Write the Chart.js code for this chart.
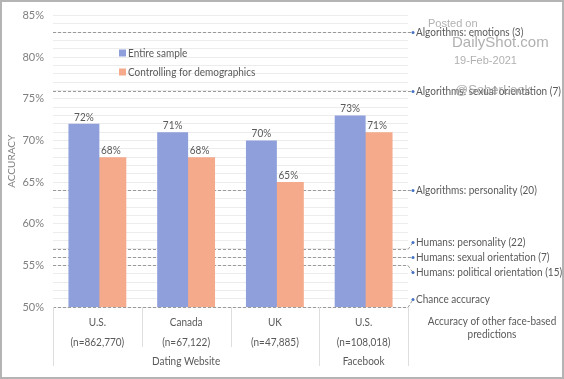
<!DOCTYPE html>
<html>
<head>
<meta charset="utf-8">
<script src="https://cdn.jsdelivr.net/npm/chart.js@4/dist/chart.umd.min.js"></script>
<style>
html,body{margin:0;padding:0;background:#fff;}
#wrap{width:564px;height:379px;position:relative;}
</style>
</head>
<body>
<div id="wrap"><canvas id="c" width="564" height="379"></canvas></div>
<script>
// ---- data ----
const categories = [['U.S.', '(n=862,770)'], ['Canada', '(n=67,122)'], ['UK', '(n=47,885)'], ['U.S.', '(n=108,018)']];
const groupLabels = ['Dating Website', 'Facebook'];
const groupSpans = [[0, 2], [3, 3]];
const entireSample = [72, 71, 70, 73];
const controlling = [68, 68, 65, 71];
const seriesNames = ['Entire sample', 'Controlling for demographics'];
const refLabels = ['Algorithms: emotions (3)', 'Algorithms: sexual orientation (7)', 'Algorithms: personality (20)',
  'Humans: personality (22)', 'Humans: sexual orientation (7)', 'Humans: political orientation (15)', 'Chance accuracy'];
const refValues = [83, 76, 64, 57, 56, 55, 50];
const yTicks = [50, 55, 60, 65, 70, 75, 80, 85];
const sideTitle = ['Accuracy of other face-based', 'predictions'];
const watermark = ['Posted on', 'DailyShot.com', '19-Feb-2021', '@SoberLook'];

const FONT = 'Lato, "Liberation Sans", sans-serif';
const BLUE = '#8e9fdb';
const ORANGE = '#f5aa8b';
const TXT = '#595959';
const labelShift = [0, 0, 0, -7, 0, 7, -8];
const SX = 0.87;

function txt(ctx, s, x, y, align) {
  ctx.save();
  ctx.translate(x, y);
  ctx.scale(SX, 1);
  ctx.textAlign = align || 'left';
  ctx.fillText(s, 0, 0);
  ctx.restore();
}

const overlay = {
  id: 'overlay',
  beforeDatasetsDraw(chart) {
    const {ctx, chartArea: ca, scales: {y}} = chart;
    ctx.save();
    refValues.forEach((v, i) => {
      const py = Math.round(y.getPixelForValue(v)) + 0.5;
      const ly = py + labelShift[i];
      ctx.strokeStyle = '#9a9a9a';
      ctx.lineWidth = 1;
      ctx.setLineDash([3, 2]);
      ctx.beginPath();
      ctx.moveTo(ca.left, py);
      ctx.lineTo(ca.right, py);
      ctx.lineTo(ca.right + 5, ly);
      ctx.stroke();
      ctx.setLineDash([]);
      ctx.fillStyle = '#4472c4';
      ctx.beginPath();
      ctx.arc(ca.right + 5, ly, 1.5, 0, Math.PI * 2);
      ctx.fill();
      ctx.fillStyle = TXT;
      ctx.font = '11.5px ' + FONT;
      ctx.textBaseline = 'middle';
      txt(ctx, refLabels[i], ca.right + 8, ly, 'left');
    });
    ctx.restore();
  },
  afterDraw(chart) {
    const {ctx, chartArea: ca, scales: {x, y}} = chart;
    ctx.save();
    ctx.font = '11.5px ' + FONT;
    ctx.fillStyle = TXT;
    ctx.textBaseline = 'bottom';
    chart.data.datasets.forEach((ds, di) => {
      chart.getDatasetMeta(di).data.forEach((bar, i) => {
        txt(ctx, ds.data[i] + '%', bar.x, bar.y - 1, 'center');
      });
    });
    // category separators
    const half = (x.getPixelForValue(1) - x.getPixelForValue(0)) / 2;
    const groupStarts = groupSpans.map(s => s[0]);
    ctx.strokeStyle = '#dedede';
    ctx.lineWidth = 1;
    for (let i = 0; i <= categories.length; i++) {
      const px = Math.round(i < categories.length ? x.getPixelForValue(i) - half : x.getPixelForValue(i - 1) + half) + 0.5;
      const long = groupStarts.includes(i) || i === categories.length;
      ctx.beginPath();
      ctx.moveTo(px, ca.bottom);
      ctx.lineTo(px, ca.bottom + (long ? 59 : 40));
      ctx.stroke();
    }
    // category labels
    ctx.textBaseline = 'middle';
    categories.forEach((c, i) => {
      const cx = x.getPixelForValue(i);
      txt(ctx, c[0], cx, ca.bottom + 15, 'center');
      txt(ctx, c[1], cx, ca.bottom + 35, 'center');
    });
    groupSpans.forEach((s, gi) => {
      const cx = (x.getPixelForValue(s[0]) + x.getPixelForValue(s[1])) / 2;
      txt(ctx, groupLabels[gi], cx, ca.bottom + 54, 'center');
    });
    const sx = 492;
    txt(ctx, sideTitle[0], sx, ca.bottom + 14, 'center');
    txt(ctx, sideTitle[1], sx, ca.bottom + 27, 'center');
    // legend
    const lgY = [53, 72];
    chart.data.datasets.forEach((ds, di) => {
      const ly = lgY[di];
      ctx.fillStyle = ds.backgroundColor;
      ctx.fillRect(119, ly - 3.5, 7, 7);
      ctx.fillStyle = TXT;
      txt(ctx, ds.label, 128, ly, 'left');
    });
    // watermark
    ctx.fillStyle = 'rgba(150,150,150,0.75)';
    ctx.textAlign = 'left';
    ctx.font = '11px "Liberation Sans", sans-serif';
    ctx.fillText(watermark[0], 428, 24);
    ctx.font = '15px "Liberation Sans", sans-serif';
    ctx.fillText(watermark[1], 452, 43);
    ctx.font = '11px "Liberation Sans", sans-serif';
    ctx.fillText(watermark[2], 454, 61);
    ctx.font = '13px "Liberation Sans", sans-serif';
    ctx.fillText(watermark[3], 455, 90);
    // frame
    ctx.strokeStyle = '#b4b4b4';
    ctx.lineWidth = 2;
    ctx.strokeRect(1, 1, chart.width - 2, chart.height - 2);
    ctx.restore();
  }
};

new Chart(document.getElementById('c'), {
  type: 'bar',
  data: {
    labels: categories,
    datasets: [
      {label: seriesNames[0], data: entireSample, backgroundColor: BLUE, categoryPercentage: 0.607, barPercentage: 1.148},
      {label: seriesNames[1], data: controlling, backgroundColor: ORANGE, categoryPercentage: 0.607, barPercentage: 1.148}
    ]
  },
  options: {
    responsive: false,
    animation: false,
    devicePixelRatio: 1,
    layout: {padding: {left: 0, right: 156, top: 15, bottom: 0}},
    plugins: {legend: {display: false}, tooltip: {enabled: false}},
    scales: {
      x: {
        grid: {display: false},
        border: {display: false},
        ticks: {display: false},
        afterFit(s) { s.height = 72; }
      },
      y: {
        min: 50, max: 85,
        grid: {color: '#ececec', drawTicks: false},
        border: {display: false},
        ticks: {
          stepSize: 1, autoSkip: false, padding: 9, color: '#7f7f7f',
          font: {family: FONT, size: 11},
          callback: v => yTicks.includes(v) ? v + '%' : ''
        },
        title: {display: true, text: 'ACCURACY', color: '#7f7f7f', font: {family: FONT, size: 10}, padding: {top: 6, bottom: 0}},
        afterFit(s) { s.width = 53; }
      }
    }
  },
  plugins: [overlay]
});
</script>
</body>
</html>
